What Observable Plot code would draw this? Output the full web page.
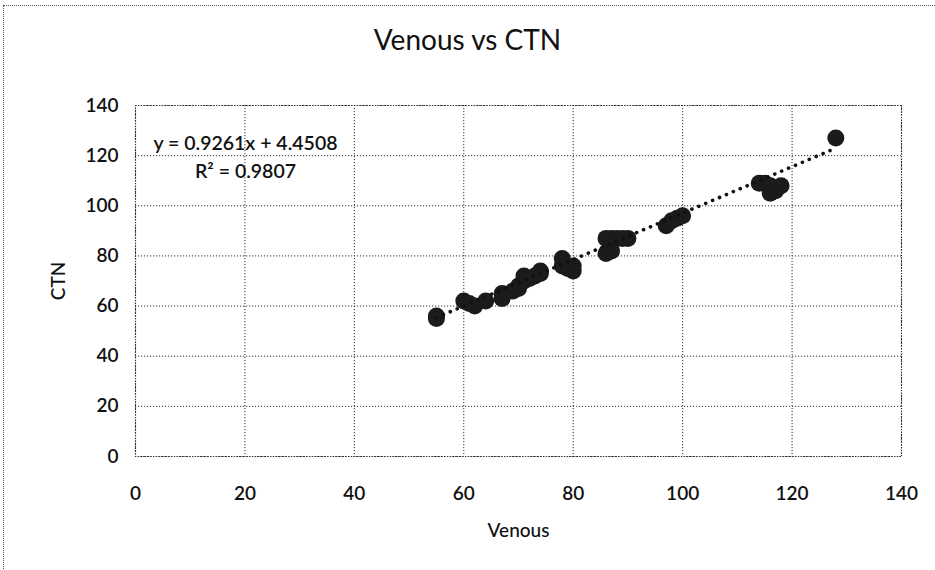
<!DOCTYPE html>
<html>
<head>
<meta charset="utf-8">
<script src="https://cdn.jsdelivr.net/npm/d3@7"></script>
<script src="https://cdn.jsdelivr.net/npm/@observablehq/plot@0.6"></script>
<style>
  html, body { margin: 0; padding: 0; background: #fff; }
  #wrap { position: relative; width: 935px; height: 570px; overflow: hidden; }
  #border { position: absolute; left: 3px; top: 5px; width: 1000px; height: 700px;
            border: 1px dotted #555; box-sizing: border-box; }
  #title { position: absolute; left: 0; top: 22px; width: 935px; text-align: center;
           font-family: Lato, "Open Sans", sans-serif; font-size: 28px; color: #111; }
  #chart { position: absolute; left: 0; top: 75px; }
  #chart svg g[aria-label$="axis label"] text { font-weight: 500; }
</style>
</head>
<body>
<div id="wrap">
  <div id="border"></div>
  <div id="title">Venous vs CTN</div>
  <div id="chart"></div>
</div>
<script>
const venous = [55, 55, 60, 61, 62, 64, 67, 67, 69, 70, 70, 71, 71, 72, 73, 74, 74,
                78, 78, 79, 80, 80, 86, 87, 86, 87, 88, 89, 90,
                97, 98, 99, 100, 114, 115, 116, 116, 117, 117, 118, 128];
const ctn    = [55, 56, 62, 61, 60, 62, 63, 65, 66, 67, 68, 70, 72, 71, 72, 73, 74,
                79, 76, 75, 76, 74, 81, 82, 87, 87, 87, 87, 87,
                92, 94, 95, 96, 109, 109, 108, 105, 106, 107, 108, 127];
const slope = 0.9261, intercept = 4.4508, r2 = 0.9807;
const xTicks = [0, 20, 40, 60, 80, 100, 120, 140];
const yTicks = [0, 20, 40, 60, 80, 100, 120, 140];
const eqLines = [`y = ${slope}x + ${intercept}`, `R² = ${r2}`];

const points = venous.map((v, i) => ({venous: v, ctn: ctn[i]}));
const xMin = d3.min(venous), xMax = d3.max(venous);
const trend = [xMin, xMax].map(x => ({venous: x, ctn: slope * x + intercept}));

const chart = Plot.plot({
  width: 935,
  height: 495,
  marginLeft: 135,
  marginRight: 34,
  marginTop: 30,
  marginBottom: 114,
  style: {fontFamily: "Lato, 'Open Sans', sans-serif", fontSize: "19px", color: "#111", background: "transparent"},
  x: {domain: [0, 140], ticks: xTicks},
  y: {domain: [0, 140], ticks: yTicks},
  marks: [
    Plot.gridX(xTicks, {stroke: "#333", strokeOpacity: 1, strokeWidth: 1, strokeDasharray: "1.2 1.8"}),
    Plot.gridY(yTicks, {stroke: "#333", strokeOpacity: 1, strokeWidth: 1, strokeDasharray: "1.2 1.8"}),
    Plot.frame({stroke: "#333", strokeWidth: 1.2, strokeDasharray: "1.2 1.4"}),
    Plot.axisX({ticks: xTicks, tickSize: 0, tickPadding: 30, fontWeight: 600,
                label: "Venous", labelAnchor: "center", labelArrow: "none", labelOffset: 80}),
    Plot.axisY({ticks: yTicks, tickSize: 0, tickPadding: 17, fontWeight: 600,
                label: "CTN", labelAnchor: "center", labelArrow: "none", labelOffset: 84}),
    Plot.dot(points, {x: "venous", y: "ctn", r: 8.5, fill: "#1b1b1b", stroke: "none"}),
    Plot.line(trend, {x: "venous", y: "ctn", stroke: "#111", strokeWidth: 3.6,
                      strokeDasharray: "0.1 7.4", strokeLinecap: "round"}),
    Plot.text([eqLines[0]], {frameAnchor: "top-left", dx: 110, dy: 31, text: d => d,
                             textAnchor: "middle", fontSize: 19.5, fontWeight: 600, fill: "#111"}),
    Plot.text([eqLines[1]], {frameAnchor: "top-left", dx: 110, dy: 59, text: d => d,
                             textAnchor: "middle", fontSize: 19.5, fontWeight: 600, fill: "#111"})
  ]
});
document.getElementById("chart").appendChild(chart);
</script>
</body>
</html>
